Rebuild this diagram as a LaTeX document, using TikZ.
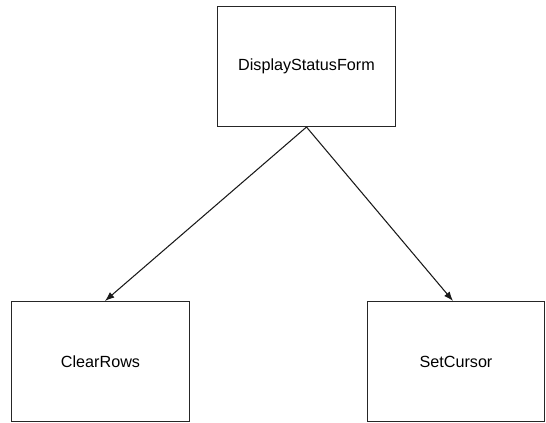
\documentclass[tikz,border=0pt]{standalone}
\usepackage{fontspec}
\setmainfont{Liberation Sans}
\usetikzlibrary{positioning, arrows.meta}

\begin{document}
\begin{tikzpicture}[
    x=0.03cm, y=-0.03cm,
    func/.style={rectangle, draw=black!85, line width=0.9pt, fill=white, minimum width=5.32cm, minimum height=3.6cm, align=center, font=\fontsize{13.8}{16}\selectfont},
    arr/.style={-{Latex[length=8pt, width=6pt]}, line width=0.9pt, draw=black!90}
]
    \useasboundingbox (0,0) rectangle (546,423);

    \node[func] (display) at (306.5,66.5) {DisplayStatusForm};
    \node[func] (clear) at (100.5,361.5) {ClearRows};
    \node[func] (cursor) at (456,361.5) {SetCursor};

    \draw[arr] (display.south) -- ([xshift=4.5*0.03cm]clear.north);
    \draw[arr] (display.south) -- ([xshift=-3*0.03cm]cursor.north);
\end{tikzpicture}
\end{document}
